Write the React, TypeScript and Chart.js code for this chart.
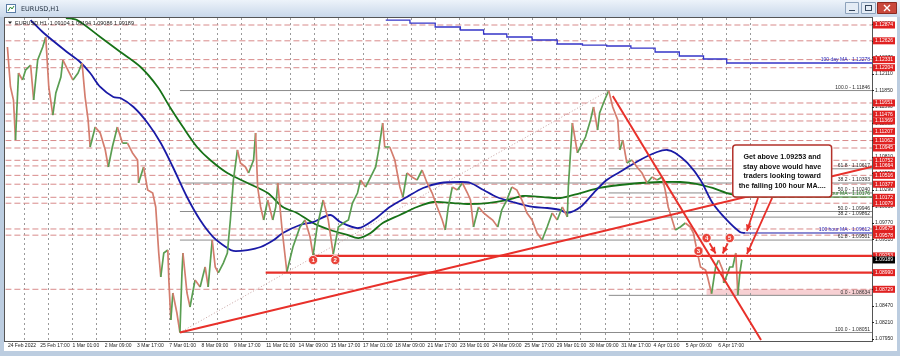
import React, { useEffect, useRef } from 'react';
import { Chart, registerables } from 'chart.js';
Chart.register(...registerables);

// ---------- DATA (hour index since first bar, price) ----------
const xTickLabels = ['24 Feb 2022','25 Feb 17:00','1 Mar 01:00','2 Mar 09:00','3 Mar 17:00','7 Mar 01:00','8 Mar 09:00','9 Mar 17:00','11 Mar 01:00','14 Mar 09:00','15 Mar 17:00','17 Mar 01:00','18 Mar 09:00','21 Mar 17:00','23 Mar 01:00','24 Mar 09:00','25 Mar 17:00','29 Mar 01:00','30 Mar 09:00','31 Mar 17:00','4 Apr 01:00','5 Apr 09:00','6 Apr 17:00'];
const hoursPerLabel = 32;

const eurusdH1: [number, number][] = [
  [0,1.12529],[3,1.11906],[6,1.11698],[8,1.11070],[11,1.12121],[15,1.12011],[18,1.12168],[23,1.12247],[26,1.11698],[30,1.12325],
  [35,1.12529],[38,1.12686],[41,1.11902],[45,1.11462],[48,1.11808],[53,1.12058],[55,1.12325],[60,1.12168],[65,1.12011],[70,1.12121],
  [74,1.12278],[77,1.11745],[80,1.11384],[82,1.10961],[87,1.11274],[92,1.11180],[97,1.10914],[100,1.10647],[104,1.10961],[109,1.11274],
  [114,1.11023],[119,1.11023],[124,1.10867],[129,1.10757],[130,1.10396],[135,1.10647],[139,1.10286],[144,1.10239],[147,1.10020],[150,1.09298],
  [152,1.08922],[155,1.09298],[159,1.09345],[160,1.08875],[162,1.08247],[164,1.08671],[168,1.08357],[171,1.08051],[173,1.08985],[174,1.09298],
  [178,1.08671],[181,1.08451],[186,1.08875],[191,1.08765],[196,1.09079],[199,1.08765],[203,1.09502],[206,1.09079],[209,1.08985],[214,1.09141],
  [218,1.09298],[221,1.09816],[224,1.10443],[228,1.10914],[231,1.10710],[236,1.10647],[239,1.10553],[244,1.10757],[246,1.11180],[248,1.10333],
  [251,1.10020],[254,1.09816],[258,1.10129],[263,1.09816],[266,1.10020],[268,1.10396],[272,1.09706],[277,1.09000],[283,1.09392],[290,1.09706],
  [295,1.09816],[300,1.09549],[303,1.09260],[307,1.09706],[313,1.10129],[318,1.09816],[323,1.09280],[328,1.09706],[333,1.09769],[338,1.09816],
  [342,1.10082],[347,1.10239],[350,1.10443],[355,1.10333],[360,1.10490],[365,1.10647],[368,1.10914],[372,1.11337],[374,1.10961],[379,1.10961],
  [384,1.10757],[389,1.10333],[392,1.10176],[396,1.10553],[401,1.10490],[406,1.10443],[411,1.10600],[416,1.10396],[421,1.10239],[426,1.10020],
  [431,1.09816],[434,1.09659],[437,1.10020],[441,1.10333],[446,1.10286],[451,1.10396],[456,1.10239],[459,1.10129],[462,1.09706],[467,1.10020],
  [472,1.09926],[477,1.09863],[481,1.09816],[486,1.09706],[490,1.09973],[495,1.10129],[500,1.10333],[505,1.10286],[510,1.10129],[515,1.09926],
  [520,1.09816],[525,1.09612],[530,1.09502],[535,1.09706],[540,1.09926],[545,1.09816],[550,1.10020],[555,1.09863],[556,1.10333],[560,1.11337],
  [565,1.10867],[568,1.10961],[573,1.11117],[578,1.11384],[581,1.11588],[585,1.11227],[587,1.11494],[592,1.11698],[596,1.11846],[600,1.11588],
  [605,1.11384],[607,1.10914],[610,1.11070],[614,1.10710],[619,1.10757],[624,1.10647],[629,1.10553],[634,1.10396],[639,1.10490],[644,1.10443],
  [649,1.10490],[652,1.10286],[655,1.10020],[659,1.09816],[662,1.09659],[667,1.09706],[672,1.09769],[677,1.09706],[680,1.09612],[684,1.09298],
  [687,1.09079],[692,1.09032],[694,1.08922],[698,1.08660],[702,1.09079],[705,1.09188],[709,1.09032],[710,1.08828],[714,1.08985],[716,1.09079],
  [719,1.09079],[722,1.09298],[724,1.08640],[726,1.08985],[728,1.09189]
];

const ma100H1: [number, number][] = [
  [23,1.12952],[36,1.12748],[59,1.12451],[72,1.12294],[82,1.12121],[92,1.11902],[105,1.11745],[112,1.11729],[125,1.11588],[139,1.11337],
  [152,1.11023],[164,1.10647],[178,1.10176],[191,1.09816],[204,1.09549],[218,1.09376],[224,1.09330],[238,1.09345],[251,1.09392],[264,1.09502],
  [273,1.09612],[290,1.09737],[303,1.09784],[320,1.09894],[330,1.09784],[348,1.09690],[363,1.09816],[379,1.10020],[396,1.10176],[412,1.10318],
  [429,1.10396],[449,1.10412],[459,1.10396],[472,1.10286],[485,1.10176],[501,1.10098],[521,1.10020],[535,1.10004],[548,1.09973],[555,1.09926],
  [568,1.10020],[581,1.10239],[594,1.10443],[607,1.10569],[627,1.10757],[644,1.10882],[654,1.10914],[662,1.10867],[674,1.10710],[687,1.10443],
  [699,1.10082],[713,1.09816],[726,1.09628],[731,1.09612]
];

const ma200H1: [number, number][] = [
  [58,1.12984],[69,1.12952],[92,1.12686],[112,1.12451],[132,1.12215],[149,1.11902],[161,1.11588],[174,1.11274],[188,1.10961],[201,1.10757],
  [218,1.10553],[238,1.10396],[258,1.10239],[273,1.10020],[287,1.09926],[303,1.09769],[320,1.09659],[337,1.09581],[348,1.09533],[360,1.09612],
  [372,1.09769],[389,1.09894],[406,1.10020],[422,1.10098],[442,1.10082],[456,1.10067],[476,1.10082],[495,1.10129],[511,1.10192],[531,1.10176],
  [548,1.10161],[568,1.10239],[587,1.10318],[607,1.10365],[627,1.10396],[647,1.10412],[667,1.10412],[684,1.10380],[699,1.10318],[713,1.10239],
  [726,1.10192],[729,1.10176]
];

const ma100Daily: [number, number][] = [
  [375,1.12952],[399,1.12905],[424,1.12843],[449,1.12796],[472,1.12733],[495,1.12686],[520,1.12639],[545,1.12576],[570,1.12560],[594,1.12545],
  [618,1.12513],[642,1.12451],[666,1.12388],[690,1.12341],[713,1.12278],[857,1.12278]
];

const dashedLevels = [1.12874,1.12626,1.12331,1.12204,1.11651,1.11476,1.11369,1.11207,1.11062,1.10945,1.10752,1.10664,1.10516,1.10377,1.10172,1.10079,1.09675,1.09578,1.08729];
const priceBoxLabels = ['1.12874','1.12626','1.12331','1.12204','1.11651','1.11476','1.11369','1.11207','1.11062','1.10945','1.10752','1.10664','1.10516','1.10377','1.10172','1.10079','1.09675','1.09578','1.09253','1.08990','1.08729'];
const lastPrice = 1.09189;

const keyLevels = [1.09253, 1.08990];
const keyLevelStarts = [303, 256];

const fibFromMarchLow = [1.11846, 1.10396, 1.09949, 1.09501, 1.08051];
const fibFromMarchLowText = ['100.0 - 1.11846','38.2 - 1.10393','50.0 - 1.09946','61.8 - 1.09501','100.0 - 1.08051'];
const fibFromMarchLowStart = 171;
const fibFromAprilLow = [1.10619, 1.10240, 1.09861, 1.08634];
const fibFromAprilLowText = ['61.8 - 1.10617','50.0 - 1.10240','38.2 - 1.09862','0.0 - 1.08634'];
const fibFromAprilLowStart = 596;

const risingTrend: [number, number][] = [[171,1.08051],[857,1.10650]];
const fallingTrend: [number, number][] = [[600,1.11760],[747,1.07934]];
const fibTrend: [number, number][] = [[171,1.08051],[596,1.11846]];

const touchPoints: [number, number][] = [[303,1.09188],[325,1.09188],[685,1.09330],[693,1.09533],[716,1.09533]];
const touchLabels = ['1','2','3','4','5'];

const arrows: [number, number, number, number][] = [
  [744,1.10161,733,1.09643],
  [758,1.10161,733,1.09282],
  [696,1.09450,702,1.09290],
  [714,1.09450,709,1.09290]
];

const supportZone = [693, 857, 1.08634, 1.08729];
const noteBox = [719, 817, 1.10992, 1.10176];
const noteLines = ['Get above 1.09253 and','stay above would have','traders looking toward','the falling 100 hour MA....'];

// ---------- LAYOUT ----------
const W = 900, H = 356;
const X_MIN = -2, X_MAX = 857, Y_MIN = 1.07918, Y_MAX = 1.12984;
const gridFirst = 16, gridStep = 24, gridLast = 736;
const tickBase = 1.0795, tickStep = 0.0026;

const pts = (a: [number, number][]) => a.map(([x, y]) => ({ x, y }));
const hline = (v: number, from = X_MIN, to = X_MAX) => [{ x: from, y: v }, { x: to, y: v }];

const overlay = {
  id: 'overlay',
  beforeDraw(chart: any) {
    const ctx = chart.ctx;
    ctx.save();
    ctx.fillStyle = '#bccde0';
    ctx.fillRect(0, 0, W, H);
    const g = ctx.createLinearGradient(0, 0, 0, 17);
    g.addColorStop(0, '#edf3fa');
    g.addColorStop(1, '#c9d8ea');
    ctx.fillStyle = g;
    ctx.fillRect(0, 0, W, 17);
    ctx.fillStyle = '#ffffff';
    ctx.fillRect(4, 17, 893, 334);
    ctx.fillStyle = '#fff';
    ctx.strokeStyle = '#5b7da6';
    ctx.lineWidth = 1;
    ctx.fillRect(6.5, 4.5, 9, 8);
    ctx.strokeRect(6.5, 4.5, 9, 8);
    ctx.strokeStyle = '#2e8b3a';
    ctx.beginPath(); ctx.moveTo(8, 11); ctx.lineTo(10.5, 7); ctx.lineTo(12, 9); ctx.lineTo(14, 6); ctx.stroke();
    ctx.fillStyle = '#1d2b3c';
    ctx.font = '6.5px "DejaVu Sans"';
    ctx.textBaseline = 'middle';
    ctx.textAlign = 'left';
    ctx.fillText('EURUSD,H1', 21, 9);
    const btn = (x: number, w: number, fill: string, stroke: string) => {
      ctx.fillStyle = fill; ctx.strokeStyle = stroke;
      ctx.beginPath(); ctx.rect(x + 0.5, 2.5, w, 11); ctx.fill(); ctx.stroke();
    };
    btn(845, 13, '#e4ecf5', '#8da2bb');
    btn(861, 14, '#e4ecf5', '#8da2bb');
    btn(877, 19, '#c9483c', '#8c2a21');
    ctx.strokeStyle = '#34465c';
    ctx.beginPath(); ctx.moveTo(849, 10.5); ctx.lineTo(855, 10.5); ctx.stroke();
    ctx.strokeRect(865.5, 5.5, 6, 5);
    ctx.strokeStyle = '#fff'; ctx.lineWidth = 1.4;
    ctx.beginPath(); ctx.moveTo(884, 5); ctx.lineTo(890, 11); ctx.moveTo(890, 5); ctx.lineTo(884, 11); ctx.stroke();
    ctx.restore();
  },
  beforeDatasetsDraw(chart: any) {
    const ctx = chart.ctx, xs = chart.scales.x, ys = chart.scales.y, a = chart.chartArea;
    ctx.save();
    ctx.fillStyle = 'rgba(240,170,175,0.55)';
    const zx0 = xs.getPixelForValue(supportZone[0]), zx1 = xs.getPixelForValue(supportZone[1]);
    const zy0 = ys.getPixelForValue(supportZone[3]), zy1 = ys.getPixelForValue(supportZone[2]);
    ctx.fillRect(zx0, zy0, zx1 - zx0, zy1 - zy0);
    ctx.strokeStyle = '#9a9a9a';
    ctx.lineWidth = 1;
    ctx.setLineDash([2, 3]);
    for (let h = gridFirst; h <= gridLast; h += gridStep) {
      const x = Math.round(xs.getPixelForValue(h)) + 0.5;
      ctx.beginPath(); ctx.moveTo(x, a.top); ctx.lineTo(x, a.bottom); ctx.stroke();
    }
    ctx.restore();
  },
  afterDatasetsDraw(chart: any) {
    const ctx = chart.ctx, xs = chart.scales.x, ys = chart.scales.y, a = chart.chartArea;
    ctx.save();
    ctx.fillStyle = '#e8302a';
    arrows.forEach(([x0, y0, x1, y1]) => {
      const px0 = xs.getPixelForValue(x0), py0 = ys.getPixelForValue(y0);
      const px1 = xs.getPixelForValue(x1), py1 = ys.getPixelForValue(y1);
      const ang = Math.atan2(py1 - py0, px1 - px0);
      ctx.beginPath();
      ctx.moveTo(px1, py1);
      ctx.lineTo(px1 - 7 * Math.cos(ang - 0.45), py1 - 7 * Math.sin(ang - 0.45));
      ctx.lineTo(px1 - 7 * Math.cos(ang + 0.45), py1 - 7 * Math.sin(ang + 0.45));
      ctx.closePath(); ctx.fill();
    });
    const meta = chart.getDatasetMeta(chart.data.datasets.length - 1);
    ctx.fillStyle = '#fff';
    ctx.font = 'bold 6px "Liberation Sans"';
    ctx.textAlign = 'center';
    ctx.textBaseline = 'middle';
    meta.data.forEach((p: any, i: number) => ctx.fillText(touchLabels[i], p.x, p.y + 0.5));
    ctx.fillStyle = '#2b2b2b';
    ctx.font = '5px "Liberation Sans"';
    ctx.textAlign = 'right';
    ctx.textBaseline = 'bottom';
    fibFromMarchLow.forEach((v, i) => ctx.fillText(fibFromMarchLowText[i], a.right - 2, ys.getPixelForValue(v) - 0.5));
    fibFromAprilLow.forEach((v, i) => ctx.fillText(fibFromAprilLowText[i], a.right - 2, ys.getPixelForValue(v) - 0.5));
    ctx.fillStyle = '#2424b8';
    ctx.fillText('100 day MA - ' + ma100Daily[ma100Daily.length - 1][1].toFixed(5), a.right - 2, ys.getPixelForValue(ma100Daily[ma100Daily.length - 1][1]) - 0.5);
    ctx.fillText('100 hour MA - ' + ma100H1[ma100H1.length - 1][1].toFixed(5), a.right - 2, ys.getPixelForValue(ma100H1[ma100H1.length - 1][1]) - 0.5);
    ctx.fillStyle = '#1c7a1c';
    ctx.fillText('200 hour MA - ' + ma200H1[ma200H1.length - 1][1].toFixed(5), a.right - 2, ys.getPixelForValue(ma200H1[ma200H1.length - 1][1]) - 0.5);
    const bx0 = xs.getPixelForValue(noteBox[0]), bx1 = xs.getPixelForValue(noteBox[1]);
    const by0 = ys.getPixelForValue(noteBox[2]), by1 = ys.getPixelForValue(noteBox[3]);
    ctx.fillStyle = '#ffffff';
    ctx.strokeStyle = '#b3312a';
    ctx.lineWidth = 1.5;
    ctx.beginPath();
    (ctx as any).roundRect ? (ctx as any).roundRect(bx0, by0, bx1 - bx0, by1 - by0, 3) : ctx.rect(bx0, by0, bx1 - bx0, by1 - by0);
    ctx.fill(); ctx.stroke();
    ctx.fillStyle = '#111';
    ctx.font = 'bold 7.2px "Liberation Sans"';
    ctx.textAlign = 'center';
    ctx.textBaseline = 'middle';
    const cx = (bx0 + bx1) / 2;
    noteLines.forEach((t, i) => ctx.fillText(t, cx, by0 + 12 + i * 9.6));
    ctx.restore();
  },
  afterDraw(chart: any) {
    const ctx = chart.ctx, xs = chart.scales.x, ys = chart.scales.y, a = chart.chartArea;
    ctx.save();
    ctx.strokeStyle = '#555';
    ctx.lineWidth = 1;
    ctx.strokeRect(4.5, a.top - 0.5, a.right - 4, a.bottom - a.top + 1);
    ctx.fillStyle = '#222';
    ctx.beginPath(); ctx.moveTo(8, 21.5); ctx.lineTo(12, 21.5); ctx.lineTo(10, 24); ctx.closePath(); ctx.fill();
    ctx.font = '5.5px "Liberation Sans"';
    ctx.textAlign = 'left';
    ctx.textBaseline = 'middle';
    ctx.fillText('EURUSD,H1  1.09104 1.09194 1.09086 1.09189', 15, 23);
    ctx.font = '5px "Liberation Sans"';
    ctx.fillStyle = '#222';
    xTickLabels.forEach((t, i) => ctx.fillText(t, xs.getPixelForValue(i * hoursPerLabel) + 0.5, 346));
    for (let v = tickBase; v < Y_MAX; v += tickStep) {
      const y = ys.getPixelForValue(v);
      ctx.fillStyle = '#222';
      ctx.fillRect(a.right, Math.round(y), 2, 1);
      ctx.fillText(v.toFixed(5), a.right + 3, y);
    }
    priceBoxLabels.forEach((t) => {
      const v = parseFloat(t);
      const y = ys.getPixelForValue(v);
      ctx.fillStyle = '#e02020';
      ctx.fillRect(a.right + 1, y - 3.5, 22, 7);
      ctx.fillStyle = '#fff';
      ctx.fillText(t, a.right + 3, y);
    });
    const yl = ys.getPixelForValue(lastPrice);
    ctx.fillStyle = '#000';
    ctx.fillRect(a.right + 1, yl - 3.5, 22, 7);
    ctx.fillStyle = '#fff';
    ctx.fillText(lastPrice.toFixed(5), a.right + 3, yl);
    ctx.restore();
  }
};

export default function App() {
  const ref = useRef<HTMLCanvasElement | null>(null);
  useEffect(() => {
    document.body.style.margin = '0';
    const up = '#5a9e52', down = '#d47d6e';
    const red = '#e8302a';
    const datasets: any[] = [];
    dashedLevels.forEach((v) => datasets.push({ data: hline(v), borderColor: '#d88a8a', borderWidth: 1, borderDash: [6, 3], order: 20 }));
    fibFromMarchLow.forEach((v) => datasets.push({ data: hline(v, fibFromMarchLowStart), borderColor: '#8c8c8c', borderWidth: 1, order: 19 }));
    fibFromAprilLow.forEach((v) => datasets.push({ data: hline(v, fibFromAprilLowStart), borderColor: '#8c8c8c', borderWidth: 1, order: 19 }));
    datasets.push({ data: pts(fibTrend), borderColor: '#c8a4a4', borderWidth: 1, borderDash: [1, 2], order: 18 });
    datasets.push({ data: pts(ma100Daily), borderColor: '#3535c8', borderWidth: 1.3, stepped: true, order: 17 });
    datasets.push({ data: pts(ma200H1), borderColor: '#187218', borderWidth: 1.8, tension: 0.3, order: 16 });
    datasets.push({ data: hline(ma200H1[ma200H1.length - 1][1], ma200H1[ma200H1.length - 1][0]), borderColor: '#187218', borderWidth: 1, order: 16 });
    datasets.push({ data: pts(ma100H1), borderColor: '#1a1aa6', borderWidth: 1.8, tension: 0.3, order: 15 });
    datasets.push({ data: hline(ma100H1[ma100H1.length - 1][1], ma100H1[ma100H1.length - 1][0]), borderColor: '#1a1aa6', borderWidth: 1, order: 15 });
    datasets.push({
      data: pts(eurusdH1), borderWidth: 1.7, order: 14, borderColor: up,
      segment: { borderColor: (c: any) => (c.p1.parsed.y >= c.p0.parsed.y ? up : down) }
    });
    datasets.push({ data: pts(risingTrend), borderColor: red, borderWidth: 2, order: 5 });
    datasets.push({ data: pts(fallingTrend), borderColor: red, borderWidth: 2, order: 5 });
    keyLevels.forEach((v, i) => datasets.push({ data: hline(v, keyLevelStarts[i]), borderColor: red, borderWidth: 2.2, order: 4 }));
    arrows.forEach(([x0, y0, x1, y1]) => datasets.push({ data: [{ x: x0, y: y0 }, { x: x1, y: y1 }], borderColor: red, borderWidth: 1.8, order: 3 }));
    datasets.push({
      data: pts(touchPoints), showLine: false, pointRadius: 4.6, pointBackgroundColor: '#e9443a',
      pointBorderColor: '#ffffff', pointBorderWidth: 0.8, order: 0
    });
    datasets.forEach((d) => { if (d.pointRadius === undefined) d.pointRadius = 0; d.fill = false; });

    const chart = new Chart(ref.current as HTMLCanvasElement, {
      type: 'line',
      data: { datasets },
      options: {
        responsive: false,
        animation: false,
        devicePixelRatio: 1,
        events: [],
        layout: { padding: { left: 5, top: 18, right: 28, bottom: 15 } },
        scales: {
          x: { type: 'linear', min: X_MIN, max: X_MAX, display: false },
          y: { type: 'linear', min: Y_MIN, max: Y_MAX, display: false }
        },
        plugins: { legend: { display: false }, tooltip: { enabled: false } }
      },
      plugins: [overlay]
    } as any);
    return () => chart.destroy();
  }, []);
  return <canvas ref={ref} width={W} height={H} style={{ display: 'block' }} />;
}
